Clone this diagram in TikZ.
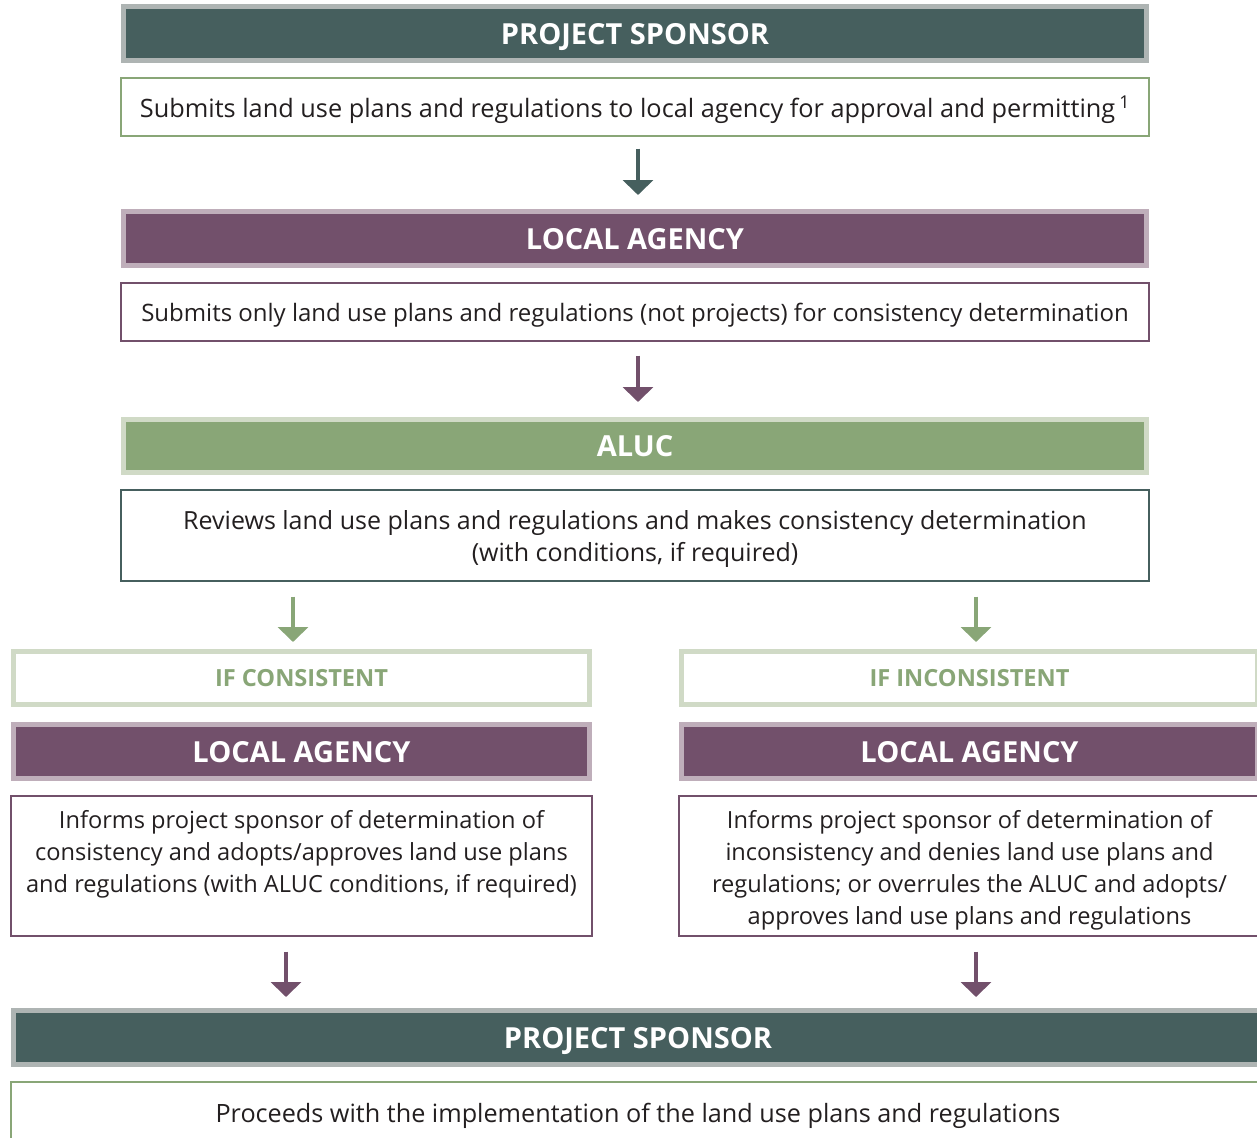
\documentclass[tikz,border=0pt]{standalone}
\usepackage{fontspec}
\setmainfont{Open Sans}
\usetikzlibrary{arrows.meta}
\definecolor{cTeal}{HTML}{465F5E}
\definecolor{cTealL}{HTML}{AEB4B3}
\definecolor{cPurp}{HTML}{72506B}
\definecolor{cPurpL}{HTML}{BFAEBA}
\definecolor{cGreen}{HTML}{89A677}
\definecolor{cGreenL}{HTML}{D0DAC6}
\definecolor{cText}{HTML}{231F20}
\tikzset{
  hdr/.style={draw, line width=5pt, inner sep=0pt, text=white, text depth=0pt,
    font=\fontsize{29}{32}\selectfont\bfseries},
  hteal/.style={hdr, fill=cTeal, draw=cTealL},
  hpurp/.style={hdr, fill=cPurp, draw=cPurpL},
  hgreen/.style={hdr, fill=cGreen, draw=cGreenL},
  hif/.style={hdr, fill=white, draw=cGreenL, text=cGreen,
    font=\fontsize{23.6}{26}\selectfont\bfseries},
  box/.style={draw, line width=1.2pt, fill=white, inner sep=0pt},
  txt/.style={inner sep=0pt, text=cText, align=center},
  arr/.style={-{Triangle[width=30pt,length=15pt]}, line width=4pt},
}
\begin{document}
\begin{tikzpicture}[x=1pt,y=-1pt]
\useasboundingbox (0,0) rectangle (1257,1137);
\clip (0,0) rectangle (1257,1137);
% top column
\node[hteal, minimum width=1023pt, minimum height=54pt] (h1) at (635,33.5) {PROJECT SPONSOR};
\node[box, draw=cGreen, minimum width=1028pt, minimum height=58pt] (b1) at (635,107) {};
\node[txt, font=\fontsize{25.3}{32}\selectfont] (b1t) at (635,110)
  {Submits land use plans and regulations to local agency for approval and permitting\,\textsuperscript{1}};
\node[hpurp, minimum width=1023pt, minimum height=54pt] (h2) at (635,238.5) {LOCAL AGENCY};
\node[box, draw=cPurp, minimum width=1028pt, minimum height=58pt] (b2) at (635,312) {};
\node[txt, font=\fontsize{24}{32}\selectfont] (b2t) at (635,315)
  {Submits only land use plans and regulations (not projects) for consistency determination};
\node[hgreen, minimum width=1023pt, minimum height=53pt] (h3) at (635,446) {ALUC};
\node[box, draw=cTeal, minimum width=1028pt, minimum height=91pt] (b3) at (635,535.5) {};
\node[txt, font=\fontsize{25}{32}\selectfont] (b3t) at (635,539)
  {Reviews land use plans and regulations and makes consistency determination\\(with conditions, if required)};
% branches
\node[hif, minimum width=576pt, minimum height=53pt] (ic1) at (301.5,678) {IF CONSISTENT};
\node[hif, minimum width=576pt, minimum height=53pt] (ic2) at (969.5,678) {IF INCONSISTENT};
\node[hpurp, minimum width=576pt, minimum height=54pt] (la1) at (301.5,751.5) {LOCAL AGENCY};
\node[hpurp, minimum width=576pt, minimum height=54pt] (la2) at (969.5,751.5) {LOCAL AGENCY};
\node[box, draw=cPurp, minimum width=581pt, minimum height=140pt] (inf1) at (301.5,866) {};
\node[box, draw=cPurp, minimum width=581pt, minimum height=140pt] (inf2) at (969.5,866) {};
\node[txt, font=\fontsize{23.6}{32}\selectfont] (inf1t) at (301.5,854) {Informs project sponsor of determination of\\consistency and adopts/approves land use plans\\and regulations (with ALUC conditions, if required)};
\node[txt, font=\fontsize{23.6}{32}\selectfont] (inf2t) at (969.5,870) {Informs project sponsor of determination of\\inconsistency and denies land use plans and\\regulations; or overrules the ALUC and adopts/\\approves land use plans and regulations};
% bottom
\node[hteal, minimum width=1249pt, minimum height=54pt] (ps2) at (638,1037.5) {PROJECT SPONSOR};
\node[box, draw=cGreen, minimum width=1254pt, minimum height=80pt] (last) at (638,1122) {};
\node[txt, font=\fontsize{25.2}{32}\selectfont] (lastt) at (638,1116) {Proceeds with the implementation of the land use plans and regulations};
% arrows
\draw[arr, cTeal] ([xshift=3pt,yshift=-12pt]b1.south) -- ([xshift=3pt,yshift=14pt]h2.north);
\draw[arr, cPurp] ([xshift=3pt,yshift=-14pt]b2.south) -- ([xshift=3pt,yshift=15pt]h3.north);
\draw[arr, cGreen] ([xshift=-342pt,yshift=-15pt]b3.south) -- ([xshift=-8.5pt,yshift=7pt]ic1.north);
\draw[arr, cGreen] ([xshift=341pt,yshift=-15pt]b3.south) -- ([xshift=6.5pt,yshift=7pt]ic2.north);
\draw[arr, cPurp] ([xshift=-15.5pt,yshift=-15pt]inf1.south) -- ([xshift=-352pt,yshift=11pt]ps2.north);
\draw[arr, cPurp] ([xshift=6.5pt,yshift=-15pt]inf2.south) -- ([xshift=338pt,yshift=11pt]ps2.north);
\end{tikzpicture}
\end{document}
